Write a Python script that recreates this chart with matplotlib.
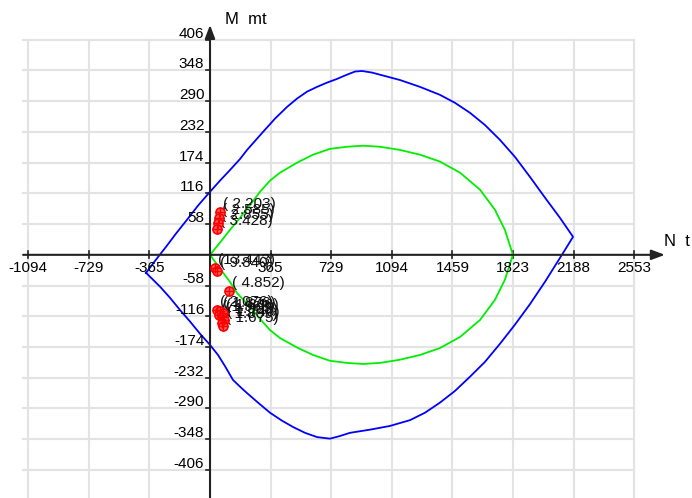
import matplotlib.pyplot as plt

plt.rcParams['font.family'] = ['Liberation Sans', 'DejaVu Sans']

# axis tick values
n_ticks = [-1094, -729, -365, 365, 729, 1094, 1459, 1823, 2188, 2553]
m_ticks = [406, 348, 290, 232, 174, 116, 58, -58, -116, -174, -232, -290, -348, -406]

# outer interaction curve (N in t, M in mt)
outer_n = [-385, -325, -265, -205, -144, -72, 0, 60, 120, 181, 223, 271, 319, 391,
           463, 524, 584, 644, 704, 764, 824, 873, 915, 975, 1023, 1143, 1264, 1384,
           1474, 1565, 1655, 1745, 1835, 1926, 2016, 2106, 2185,
           2136, 2076, 2016, 1926, 1835, 1745, 1655, 1565, 1474, 1384, 1294, 1204,
           1083, 963, 842, 782, 722, 644, 572, 500, 433, 361, 289, 223, 181, 138,
           90, 48, 0, -60, -120, -181, -241, -301, -385]
outer_m = [-34, -9, 15, 40, 64, 93, 119, 140, 160, 181, 198, 215, 232, 257,
           279, 295, 308, 317, 325, 332, 340, 346, 347, 344, 340, 330, 317, 302,
           287, 268, 245, 217, 185, 147, 108, 70, 34,
           9, -21, -51, -93, -132, -168, -202, -230, -257, -279, -298, -312,
           -323, -330, -336, -342, -347, -344, -336, -325, -313, -298, -279, -261, -249, -236,
           -210, -189, -170, -149, -126, -104, -81, -60, -34]

# inner curve, upper and lower branches
inner_up_n = [0, 60, 120, 181, 241, 301, 361, 421, 524, 620, 722, 824, 921, 1023,
              1143, 1264, 1384, 1505, 1625, 1715, 1775, 1823]
inner_up_m = [0, 23, 47, 70, 94, 119, 140, 155, 174, 189, 200, 204, 206, 204,
              198, 189, 176, 155, 123, 85, 47, 0]
inner_lo_n = [0, 60, 120, 162, 241, 301, 361, 421, 524, 620, 722, 824, 921, 1023,
              1143, 1264, 1384, 1505, 1625, 1715, 1775, 1823]
inner_lo_m = [0, -26, -51, -72, -98, -121, -142, -157, -175, -189, -200, -204, -206, -204,
              -198, -189, -176, -155, -123, -85, -47, 0]

# load points and their labels
pt_n = [60, 54, 48, 42, 30, 42, 114, 42, 60, 78, 54, 72, 84, 72, 78]
pt_m = [81, 70, 60, 49, -25, -30, -68, -104, -106, -110, -113, -117, -123, -128, -134]
pt_lbl = ['( 2.203)', '( 2.585)', '( 2.855)', '( 3.428)', '(13.443)', '( 9.840)',
          '( 4.852)', '( 2.076)', '( 1.876)', '( 1.846)', '( 1.968)', '( 1.909)',
          '( 1.746)', '( 1.809)', '( 1.675)']

fig = plt.figure(figsize=(6.92, 4.98), dpi=100)
ax = fig.add_axes([0, 0, 1, 1])
ax.set_xlim(-1264, 2901)
ax.set_ylim(-459, 481)
ax.axis('off')

grid_c = '#e3e3e3'
for n in n_ticks:
    ax.plot([n, n], [406, -470], color=grid_c, lw=1.5, zorder=0)
for m in m_ticks:
    ax.plot([-1125, 2553], [m, m], color=grid_c, lw=1.5, zorder=0)

# axes with arrows
ax.annotate('', xy=(2738, 0), xytext=(-1125, 0),
            arrowprops=dict(arrowstyle='-|>,head_length=0.8,head_width=0.3',
                            lw=1.5, color='#222222', shrinkA=0, shrinkB=0))
ax.annotate('', xy=(0, 434), xytext=(0, -470),
            arrowprops=dict(arrowstyle='-|>,head_length=0.8,head_width=0.3',
                            lw=1.5, color='#222222', shrinkA=0, shrinkB=0))

fs = 11
for n in n_ticks:
    ax.plot([n, n], [7, -6], color='#222222', lw=1.2)
    ax.text(n, -32, str(n), ha='center', va='baseline', fontsize=fs)
for m in m_ticks:
    ax.plot([-24, 0], [m, m], color='#222222', lw=1.2)
    ax.text(-34, m + 4, str(m), ha='right', va='baseline', fontsize=fs)

ax.text(90, 436, 'M  mt', fontsize=12, va='baseline')
ax.text(2732, 17, 'N  t', fontsize=12, va='baseline')

ax.plot(outer_n, outer_m, color='#0000ff', lw=1.3)
ax.plot(inner_up_n, inner_up_m, color='#00ee00', lw=1.3)
ax.plot(inner_lo_n, inner_lo_m, color='#00ee00', lw=1.3)

ax.plot(pt_n, pt_m, 'o', ms=6.5, mfc='#ff6060', mec='red', mew=1.2, zorder=5)
ax.plot(pt_n, pt_m, '+', ms=6.5, color='red', mew=1, zorder=6)
for n, m, s in zip(pt_n, pt_m, pt_lbl):
    ax.annotate(s, (n, m), xytext=(2, 3), textcoords='offset points',
                fontsize=11, va='baseline', color='#111111')

fig.savefig('out.png', dpi=100)
